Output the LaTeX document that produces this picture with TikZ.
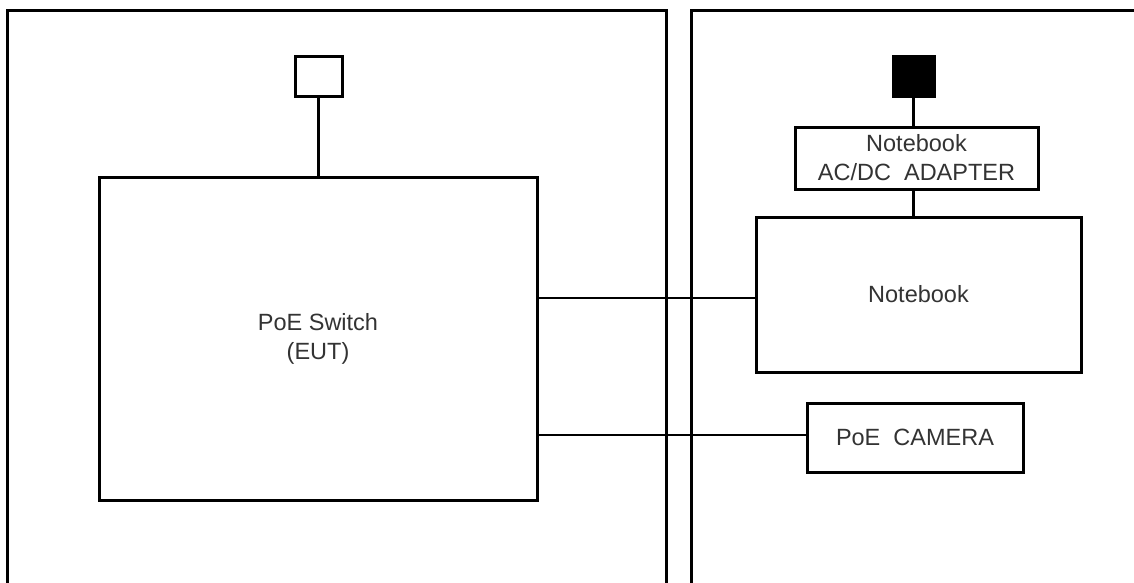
\documentclass[tikz,border=0pt]{standalone}
\usepackage{fontspec}
\setmainfont{Liberation Sans}
\begin{document}
\begin{tikzpicture}[x=1pt,y=-1pt,
  thickline/.style={line width=3pt},
  thinline/.style={line width=1.6pt},
  box/.style={draw, line width=3pt, inner sep=0pt, align=center,
    font=\fontsize{23.5}{29}\selectfont, text=black!80},
  plug/.style={draw, line width=3pt, inner sep=0pt}]
\useasboundingbox (0,0) rectangle (1134,582);
% panels
\draw[thickline] (7,590) -- (7,10) -- (666,10) -- (666,590);
\draw[thickline] (691,590) -- (691,10) -- (1140,10);
% left side
\node[plug, minimum width=47pt, minimum height=40pt] (plugA) at (318.5,76) {};
\node[box, minimum width=438pt, minimum height=323pt] (switch) at (318,338.5) {PoE Switch\\(EUT)};
% right side
\node[plug, fill=black, minimum width=41pt, minimum height=40pt] (plugB) at (913.5,76) {};
\node[box, minimum width=243pt, minimum height=62pt] (adapter) at (916.5,158) {Notebook\\AC/DC\ \ ADAPTER};
\node[box, minimum width=325pt, minimum height=155pt] (notebook) at (918.5,294.5) {Notebook};
\node[box, minimum width=216pt, minimum height=69pt] (camera) at (915,437.5) {PoE\ \ CAMERA};
% connectors
\draw[thickline] (plugA.south) -- (plugA.south |- switch.north);
\draw[thickline] (plugB.south) -- (plugB.south |- adapter.north);
\draw[thickline] (plugB.south |- adapter.south) -- (plugB.south |- notebook.north);
\draw[thinline] (switch.east |- 0,298) -- (notebook.west |- 0,298);
\draw[thinline] (switch.east |- 0,435) -- (camera.west |- 0,435);
\end{tikzpicture}
\end{document}
